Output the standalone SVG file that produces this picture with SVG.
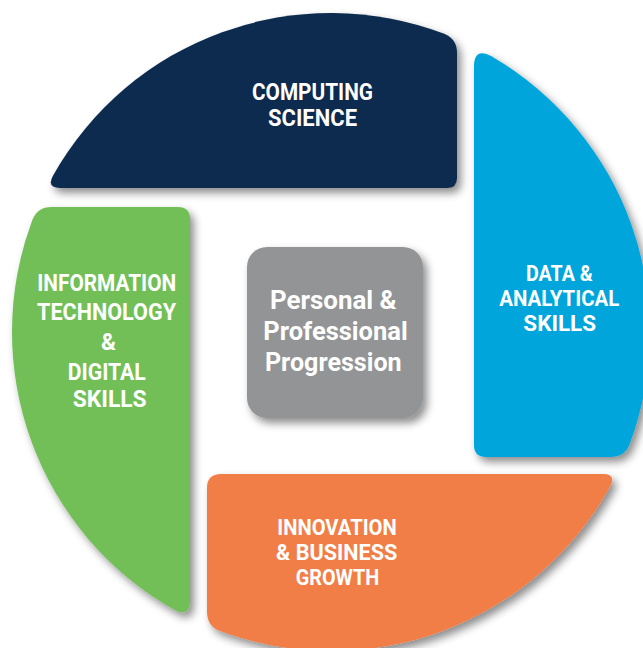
<svg xmlns="http://www.w3.org/2000/svg" width="643" height="648" viewBox="0 0 643 648">
<defs>
<filter id="sh" x="-20%" y="-20%" width="140%" height="140%">
<feDropShadow dx="4" dy="5" stdDeviation="4" flood-color="#000" flood-opacity="0.45"/>
</filter>
<style>
.seg{filter:url(#sh);}
.t{font-family:Roboto,"Liberation Sans",sans-serif;font-weight:bold;fill:#fff;text-anchor:middle;font-size:24px;}
.s{font-size:22px;}
.g{font-size:26px;}
</style>
</defs>
<rect width="643" height="648" fill="#fff"/>
<g id="computing-science">
<path class="seg" fill="#0d2c4f" d="M60.4,188 Q46.4,188 52.8,175.9 A319,319 0 0 1 444.3,33.8 Q457,39 457,53 L457,178 Q457,188 447,188 Z"/>
<text class="t" x="312.5" y="100" textLength="121" lengthAdjust="spacingAndGlyphs">COMPUTING</text>
<text class="t" x="312.5" y="126" textLength="89" lengthAdjust="spacingAndGlyphs">SCIENCE</text>
</g>
<g id="data-analytical">
<path class="seg" fill="#05a5dc" d="M474,66.8 Q474,46.8 491.5,56.3 A319,319 0 0 1 629.7,444 Q624.5,457 610.5,457 L486,457 Q474,457 474,445 Z"/>
<text class="t s" x="559.3" y="281" textLength="66.7" lengthAdjust="spacingAndGlyphs">DATA &amp;</text>
<text class="t s" x="559.3" y="305.5" textLength="120" lengthAdjust="spacingAndGlyphs">ANALYTICAL</text>
<text class="t s" x="559.7" y="330.5" textLength="72.7" lengthAdjust="spacingAndGlyphs">SKILLS</text>
</g>
<g id="innovation">
<path class="seg" fill="#f27e47" d="M221,474 L602.7,474 Q616.7,474 610.2,486.4 A319,319 0 0 1 220,631.1 Q207,625.9 207,611.9 L207,488 Q207,474 221,474 Z"/>
<text class="t s" x="337" y="535" textLength="119.4" lengthAdjust="spacingAndGlyphs">INNOVATION</text>
<text class="t s" x="336.7" y="560" textLength="121.3" lengthAdjust="spacingAndGlyphs">&amp; BUSINESS</text>
<text class="t s" x="337.5" y="584.5" textLength="83.6" lengthAdjust="spacingAndGlyphs">GROWTH</text>
</g>
<g id="it-digital">
<path class="seg" fill="#71bf57" d="M51.5,207 L178,207 Q190,207 190,219 L190,600 Q190,618.1 174.1,609.7 A319,319 0 0 1 32.3,220 Q37.5,207 51.5,207 Z"/>
<text class="t" x="106.7" y="291" textLength="139" lengthAdjust="spacingAndGlyphs">INFORMATION</text>
<text class="t" x="106.5" y="320" textLength="139" lengthAdjust="spacingAndGlyphs">TECHNOLOGY</text>
<text class="t" x="108.5" y="349.5" textLength="15" lengthAdjust="spacingAndGlyphs">&amp;</text>
<text class="t" x="106.8" y="379.5" textLength="78" lengthAdjust="spacingAndGlyphs">DIGITAL</text>
<text class="t" x="109.7" y="407" textLength="74" lengthAdjust="spacingAndGlyphs">SKILLS</text>
</g>
<g id="personal-progression">
<rect class="seg" x="247" y="247" width="176" height="171" rx="20" fill="#939495"/>
<text class="t g" x="333.3" y="309.3" textLength="126.7" lengthAdjust="spacingAndGlyphs">Personal &amp;</text>
<text class="t g" x="335.5" y="340" textLength="144.4" lengthAdjust="spacingAndGlyphs">Professional</text>
<text class="t g" x="333.3" y="370.7" textLength="136.7" lengthAdjust="spacingAndGlyphs">Progression</text>
</g>
<g id="connectors"/>
</svg>
